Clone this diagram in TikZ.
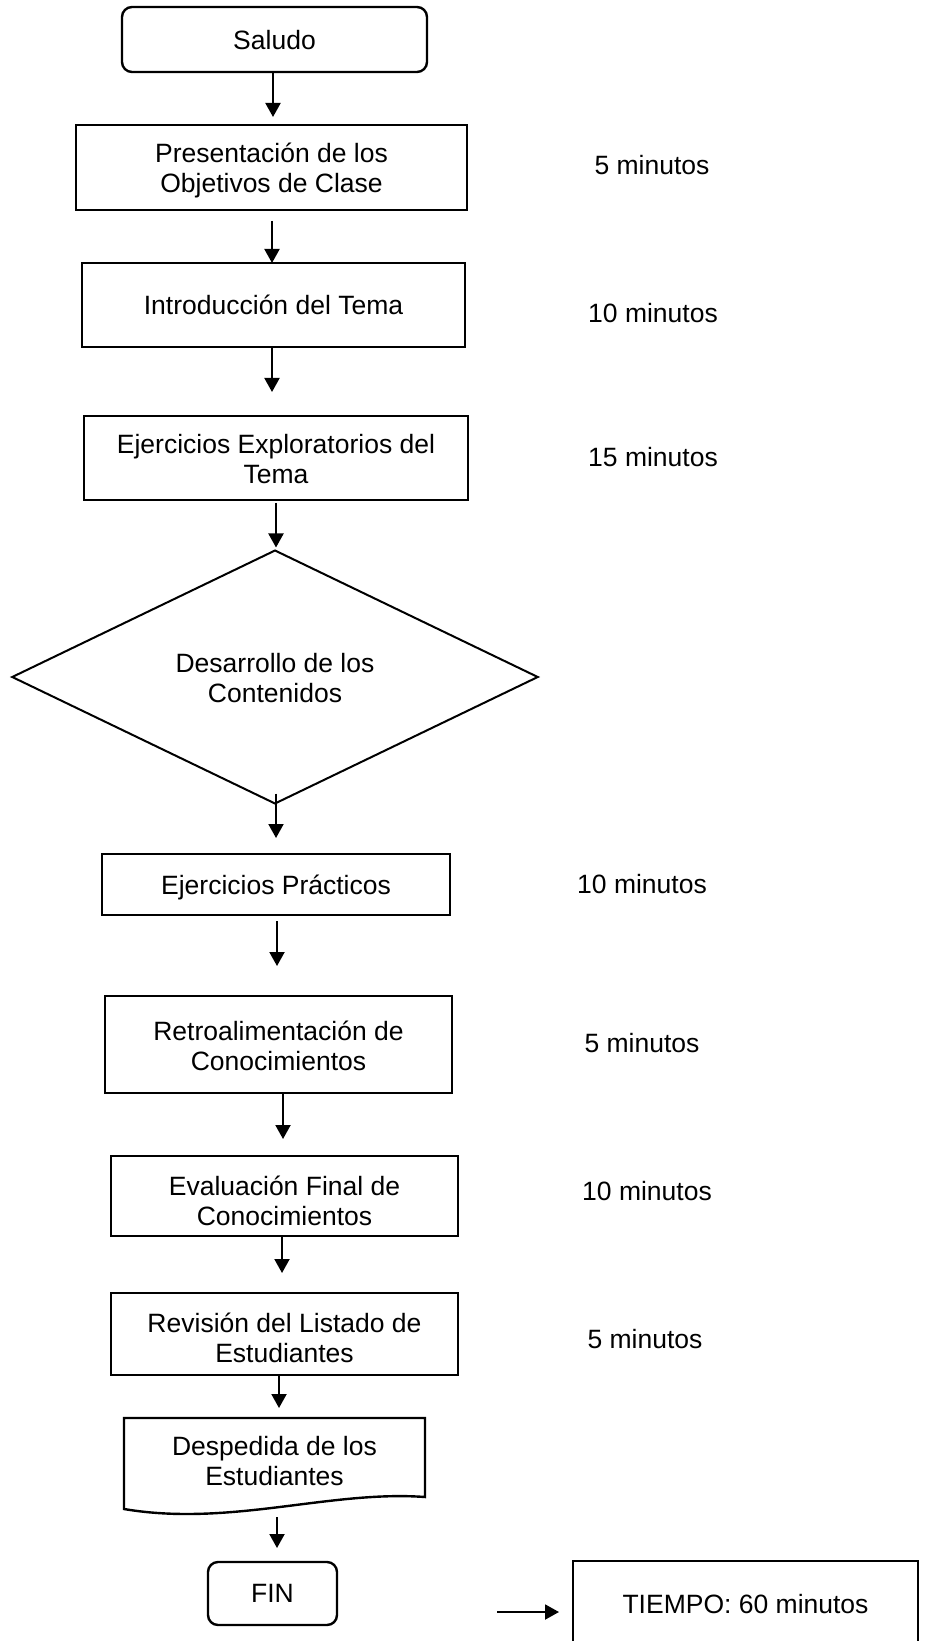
\documentclass[tikz,border=0pt]{standalone}
\usepackage{fontspec}
\setmainfont{Liberation Sans}
\usetikzlibrary{shapes.geometric,arrows.meta,calc}
\newcommand\diafont{\fontsize{13.25pt}{15pt}\selectfont}
\begin{document}
\begin{tikzpicture}[x=0.5pt,y=-0.5pt,
  box/.style={draw,line width=1.2pt,inner sep=0pt,outer sep=0pt,align=center,font=\diafont,text depth=0pt},
  term/.style={box,rounded corners=5pt},
  dia/.style={draw,line width=1pt,diamond,inner sep=0pt,outer sep=0pt,align=center,font=\diafont,text depth=0pt},
  lbl/.style={inner sep=0pt,font=\diafont},
  arr/.style={line width=1pt,-{Triangle[length=7pt,width=7.5pt]}}]
\useasboundingbox (0,0) rectangle (928,1641);

\node[term,minimum width=152.5pt,minimum height=32.5pt] (sal) at (274.5,39.5) {Saludo};
\node[box,minimum width=195.5pt,minimum height=42.5pt] (pres) at (271.5,167.5) {Presentación de los\\Objetivos de Clase};
\node[box,minimum width=191.5pt,minimum height=42pt] (intro) at (273.5,305) {Introducción del Tema};
\node[box,minimum width=192pt,minimum height=42pt,text height=25.2pt] (ejexp) at (276,458) {Ejercicios Exploratorios del\\Tema};
\node[dia,minimum width=262.75pt,minimum height=126.5pt,text height=25.8pt] (des) at (275,677) {Desarrollo de los\\Contenidos};
\node[box,minimum width=174pt,minimum height=30.5pt] (prac) at (276,884.5) {Ejercicios Prácticos};
\node[box,minimum width=173.5pt,minimum height=48.5pt,text height=25.5pt] (retro) at (278.5,1044.5) {Retroalimentación de\\Conocimientos};
\node[box,minimum width=173.5pt,minimum height=40pt,text height=29.2pt] (eval) at (284.5,1196) {Evaluación Final de\\Conocimientos};
\node[box,minimum width=173.5pt,minimum height=41pt,text height=28pt] (rev) at (284.5,1334) {Revisión del Listado de\\Estudiantes};
\node[box,draw=none,minimum width=150.5pt,minimum height=39.5pt,text height=28pt] (desp) at (274.5,1457.5) {Despedida de los\\Estudiantes};
\draw[line width=1.2pt,line join=miter] (desp.north west) -- (desp.north east) -- (desp.south east)
  .. controls ($(desp.south west)+(206,-7)$) and ($(desp.south west)+(106,30)$) .. ($(desp.south west)+(0,12)$) -- cycle;
\node[term,minimum width=64.5pt,minimum height=31.5pt,text height=8.5pt] (fin) at (272.5,1593.5) {FIN};
\node[box,minimum width=172.5pt,minimum height=43pt] (tiempo) at (745.5,1604) {TIEMPO: 60 minutos};

\node[lbl] (m1) at (652,165) {5 minutos};
\node[lbl] (m2) at (653,313) {10 minutos};
\node[lbl] (m3) at (653,457) {15 minutos};
\node[lbl] (m4) at (642,884) {10 minutos};
\node[lbl] (m5) at (642,1043) {5 minutos};
\node[lbl] (m6) at (647,1191) {10 minutos};
\node[lbl] (m7) at (645,1339) {5 minutos};

\draw[arr,shorten >=4pt] ([xshift=-0.75pt]sal.south) -- ([xshift=0.75pt]pres.north);
\draw[arr,shorten <=5.5pt] ([xshift=0.25pt]pres.south) -- ([xshift=-0.75pt]intro.north);
\draw[arr,shorten <=0.5pt,shorten >=12pt] ([xshift=-0.75pt]intro.south) -- ([xshift=-2pt]ejexp.north);
\draw[arr,shorten <=1.5pt,shorten >=1.5pt] (ejexp.south) -- ([xshift=0.5pt]des.north);
\draw[arr,shorten <=-5pt,shorten >=8pt] ([xshift=0.5pt]des.south) -- (prac.north);
\draw[arr,shorten <=3pt,shorten >=15pt] ([xshift=0.5pt]prac.south) -- ([xshift=-0.75pt]retro.north);
\draw[arr,shorten <=0.5pt,shorten >=8.5pt] ([xshift=2.25pt]retro.south) -- ([xshift=-0.75pt]eval.north);
\draw[arr,shorten <=0.5pt,shorten >=10pt] ([xshift=-1.25pt]eval.south) -- ([xshift=-1.25pt]rev.north);
\draw[arr,shorten >=5pt] ([xshift=-2.75pt]rev.south) -- ([xshift=2.25pt]desp.north);
\draw[arr,shorten <=10pt,shorten >=7pt] ([xshift=1.25pt]desp.south) -- ([xshift=2.25pt]fin.north);
\coordinate (t0) at (497,1612);
\draw[arr,shorten >=7pt] (t0) -- (t0 -| tiempo.west);
\end{tikzpicture}
\end{document}
